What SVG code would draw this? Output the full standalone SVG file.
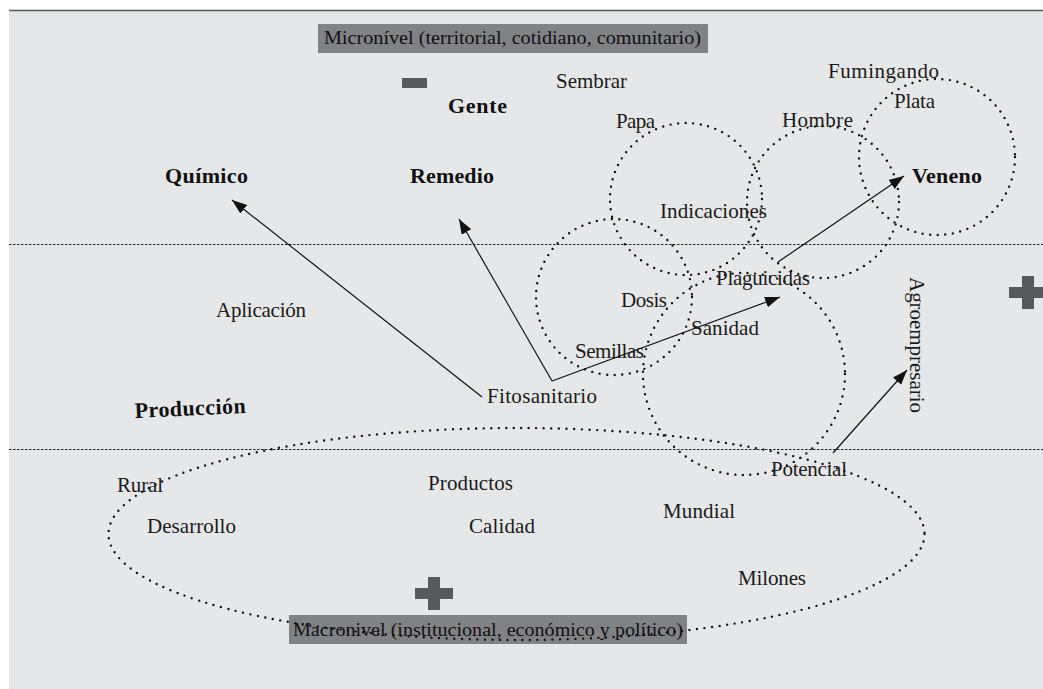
<svg xmlns="http://www.w3.org/2000/svg" width="1043" height="689" viewBox="0 0 1043 689">
<style>
.t{font-family:"Liberation Serif","Times New Roman",serif;font-size:21px;fill:#1a1a1a}
.b{font-family:"Liberation Serif","Times New Roman",serif;font-size:22px;font-weight:bold;fill:#111}
.lbl{font-family:"Liberation Serif","Times New Roman",serif;font-size:18px;fill:#111}
.dot{fill:none;stroke:#111;stroke-width:2.4;stroke-linecap:round;stroke-dasharray:0 7.6}
.dash{stroke:#222;stroke-width:1;stroke-dasharray:2.5 1.5;fill:none}
.arr{stroke:#111;stroke-width:1.2;fill:none;marker-end:url(#ah)}
.box{fill:#818285}
.sign{fill:#58595b}
</style>
<defs>
<marker id="ah" markerUnits="userSpaceOnUse" markerWidth="16" markerHeight="12" refX="15" refY="5.5" orient="auto">
<path d="M0,0 L15,5.5 L0,11 z" fill="#111"/>
</marker>
</defs>
<rect x="0" y="0" width="1043" height="689" fill="#ffffff"/>
<rect x="9" y="10" width="1034" height="679" fill="#e6e7e9"/>
<line x1="9" y1="10.5" x2="1043" y2="10.5" stroke="#58595b" stroke-width="1.5"/>
<line class="dash" x1="9" y1="244.5" x2="1043" y2="244.5"/>
<line class="dash" x1="9" y1="449.5" x2="1043" y2="449.5"/>

<g id="micronivel">
<rect class="box" x="318" y="24" width="390" height="29"/>
<text class="lbl" x="324" y="44" textLength="377" lengthAdjust="spacingAndGlyphs">Micronível (territorial, cotidiano, comunitario)</text>
</g>
<g id="macronivel">
<rect class="box" x="289" y="615" width="398" height="29"/>
<text class="lbl" x="293" y="636" textLength="390" lengthAdjust="spacingAndGlyphs">Macronivel (institucional, económico y político)</text>
</g>

<g id="signs">
<rect id="minus" class="sign" x="402" y="78" width="25" height="10"/>
<path id="plus-right" class="sign" d="M1022,276 h12 v11 h13 v11 h-13 v11 h-12 v-11 h-13 v-11 h13 z"/>
<path id="plus-bottom" class="sign" d="M428,577 h12 v11 h13 v11 h-13 v11 h-12 v-11 h-13 v-11 h13 z"/>
</g>

<g id="clusters">
<circle id="circle-papa" class="dot" cx="686" cy="199" r="76"/>
<circle id="circle-hombre" class="dot" cx="823" cy="202" r="76"/>
<circle id="circle-veneno" class="dot" cx="937" cy="157" r="78"/>
<circle id="circle-dosis" class="dot" cx="614" cy="297" r="78"/>
<circle id="circle-sanidad" class="dot" cx="744" cy="374" r="101"/>
<ellipse id="ellipse-macro" class="dot" cx="516.5" cy="534" rx="408" ry="106"/>
</g>

<g id="n-sembrar"><text class="t" x="556" y="88" textLength="71">Sembrar</text></g>
<g id="n-gente"><text class="b" x="448" y="113" textLength="59">Gente</text></g>
<g id="n-quimico"><text class="b" x="165" y="183" textLength="83">Químico</text></g>
<g id="n-remedio"><text class="b" x="410" y="183" textLength="84">Remedio</text></g>
<g id="n-papa"><text class="t" x="616" y="128" textLength="39">Papa</text></g>
<g id="n-hombre"><text class="t" x="782" y="127" textLength="71">Hombre</text></g>
<g id="n-fumingando"><text class="t" x="828" y="78" textLength="111">Fumingando</text></g>
<g id="n-plata"><text class="t" x="894" y="108" textLength="41">Plata</text></g>
<g id="n-veneno"><text class="b" x="912" y="183" textLength="70">Veneno</text></g>
<g id="n-indicaciones"><text class="t" x="660" y="218" textLength="107">Indicaciones</text></g>
<g id="n-plaguicidas"><text class="t" x="716" y="285" textLength="94">Plaguicidas</text></g>
<g id="n-dosis"><text class="t" x="621" y="307" textLength="46">Dosis</text></g>
<g id="n-sanidad"><text class="t" x="691" y="335" textLength="68">Sanidad</text></g>
<g id="n-semillas"><text class="t" x="575" y="358" textLength="69">Semillas</text></g>
<g id="n-aplicacion"><text class="t" x="216" y="317" textLength="90">Aplicación</text></g>
<g id="n-produccion"><text class="b" x="135" y="418" textLength="111" transform="rotate(-2.6 135 418)">Producción</text></g>
<g id="n-fitosanitario"><text class="t" x="487" y="403" textLength="110">Fitosanitario</text></g>
<g id="n-agroempresario"><text class="t" x="910" y="277" textLength="136" transform="rotate(90 910 277)">Agroempresario</text></g>
<g id="n-rural"><text class="t" x="117" y="492" textLength="46">Rural</text></g>
<g id="n-productos"><text class="t" x="428" y="490" textLength="85">Productos</text></g>
<g id="n-desarrollo"><text class="t" x="147" y="533" textLength="89">Desarrollo</text></g>
<g id="n-calidad"><text class="t" x="469" y="533" textLength="66">Calidad</text></g>
<g id="n-mundial"><text class="t" x="663" y="518" textLength="72">Mundial</text></g>
<g id="n-milones"><text class="t" x="738" y="585" textLength="68">Milones</text></g>
<g id="n-potencial"><text class="t" x="771" y="476" textLength="76">Potencial</text></g>

<g id="connectors">
<line class="arr" x1="482" y1="397" x2="232" y2="200"/>
<line class="arr" x1="552" y1="381" x2="459" y2="219"/>
<line class="arr" x1="552" y1="381" x2="780" y2="297"/>
<line class="arr" x1="778" y1="262" x2="904" y2="176"/>
<line class="arr" x1="833" y1="453" x2="907" y2="370"/>
</g>
</svg>
